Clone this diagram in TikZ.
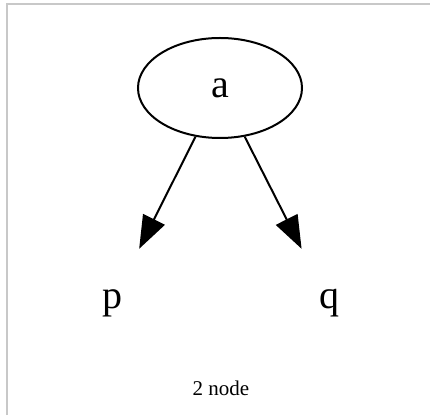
\documentclass[tikz,border=0pt]{standalone}
\usepackage{fontspec}
\setmainfont{Liberation Serif}
\usetikzlibrary{arrows.meta,shapes.geometric}
\begin{document}
\begin{tikzpicture}[x=1pt,y=1pt,
  frame/.style={draw={rgb,255:red,200;green,200;blue,200},line width=1.5pt},
  ellnode/.style={ellipse,draw,line width=2pt,minimum width=164pt,minimum height=100pt,inner sep=0pt,font=\fontsize{40}{40}\selectfont},
  plainnode/.style={rectangle,minimum width=60pt,minimum height=108pt,inner sep=0pt,font=\fontsize{40}{40}\selectfont},
  edge/.style={line width=2pt,-{Triangle[length=33pt,width=24pt]}},
  caption/.style={font=\fontsize{21}{21}\selectfont}]
\useasboundingbox (0,0) rectangle (430,415);
\draw[frame] (7,0) -- (7,411) -- (430,411);
\node[ellnode] (a) at (220,327) {a};
\node[plainnode] (p) at (112,112) {p};
\node[plainnode] (q) at (329,112) {q};
\draw[edge] (a) -- (p);
\draw[edge] (a) -- (q);
\node[caption] (cap) at (221,27) {2 node};
\end{tikzpicture}
\end{document}
